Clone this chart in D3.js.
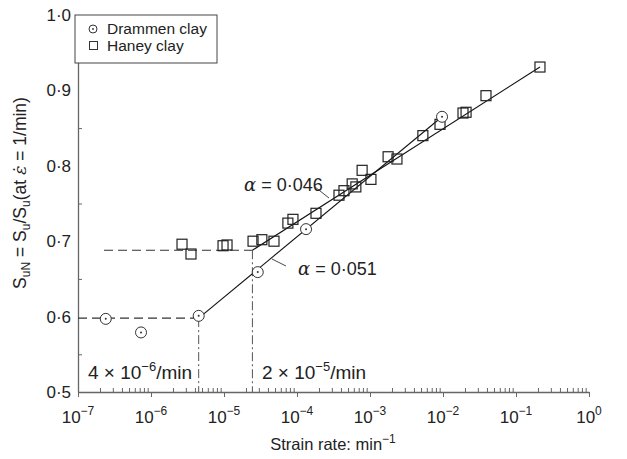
<!DOCTYPE html>
<html>
<head>
<meta charset="utf-8">
<script src="https://cdn.jsdelivr.net/npm/d3@7"></script>
<style>
  body { margin: 0; background: #fff; }
  svg { font-family: "Liberation Sans", Arial, sans-serif; }
</style>
</head>
<body>
<div id="chart"></div>
<script>
// Drammen clay (circles)
var drammenRate = [2.4e-7, 7.3e-7, 4.5e-6, 2.9e-5, 1.33e-4, 9.7e-3]
var drammenSu   = [0.597, 0.579, 0.601, 0.659, 0.716, 0.865]

// Haney clay (squares)
var haneyRate = [2.66e-6, 3.53e-6, 9.7e-6, 1.1e-5, 2.5e-5, 3.3e-5, 4.84e-5, 7.5e-5, 8.8e-5,
                 1.82e-4, 3.76e-4, 4.4e-4, 5.7e-4, 6.4e-4, 7.8e-4, 1.03e-3, 1.77e-3, 2.34e-3,
                 5.3e-3, 9.1e-3, 0.0188, 0.0207, 0.0388, 0.213]
var haneySu   = [0.696, 0.683, 0.694, 0.695, 0.700, 0.702, 0.700, 0.724, 0.729,
                 0.737, 0.761, 0.767, 0.776, 0.772, 0.794, 0.782, 0.812, 0.809,
                 0.840, 0.855, 0.870, 0.871, 0.893, 0.931]

// fitted lines (rate, Su) and plateau levels
var drammenFit = [[4.5e-6, 0.598], [9.7e-3, 0.865]]
var drammenPlateau = [[1e-7, 0.598], [4.5e-6, 0.598]]
var haneyFit = [[2.45e-5, 0.688], [0.213, 0.931]]
var haneyPlateau = [[2.27e-7, 0.688], [2.45e-5, 0.688]]

var xTickExp = [-7, -6, -5, -4, -3, -2, -1, 0]
var yTicks = [0.5, 0.6, 0.7, 0.8, 0.9, 1.0]
var yMinorTicks = [0.55, 0.65, 0.75, 0.85, 0.95]

var margin = {top: 15, right: 38, bottom: 67, left: 78},
    width = 627 - margin.left - margin.right,
    height = 459 - margin.top - margin.bottom;

var svg = d3.select('#chart')
  .append('svg')
    .attr('width', 627)
    .attr('height', 459)
  .append('g')
    .attr('transform', 'translate(' + margin.left + ',' + margin.top + ')');

var x = d3.scaleLog().domain([1e-7, 1]).range([0, width]);
var y = d3.scaleLinear().domain([0.5, 1.0]).range([height, 0]);

var axisColor = '#666';

// x minor ticks (inward)
var minorX = [];
for (var e = -7; e < 0; e++) {
  for (var m = 2; m <= 9; m++) minorX.push(m * Math.pow(10, e));
}
var gxMinor = svg.append('g')
  .attr('transform', 'translate(0,' + height + ')')
  .call(d3.axisBottom(x).tickValues(minorX).tickSize(-4).tickFormat(''));
gxMinor.select('.domain').remove();
gxMinor.selectAll('line').attr('stroke', axisColor);

// x major ticks (outward) with 10^n labels
var gx = svg.append('g')
  .attr('transform', 'translate(0,' + height + ')')
  .call(d3.axisBottom(x).tickValues(xTickExp.map(function(d) { return Math.pow(10, d) }))
    .tickSize(5).tickSizeOuter(0).tickFormat(''));
gx.select('.domain').attr('stroke', axisColor).attr('stroke-width', 1.3);
gx.selectAll('line').attr('stroke', axisColor);

xTickExp.forEach(function(ex) {
  var t = svg.append('text')
    .attr('x', x(Math.pow(10, ex)))
    .attr('y', height + 31)
    .attr('text-anchor', 'middle')
    .attr('font-size', '17px')
    .attr('fill', '#222');
  t.append('tspan').text('10');
  t.append('tspan').attr('dy', -8).attr('font-size', '12px').text(ex === 0 ? '0' : '\u2212' + (-ex));
});

// y axis
var gy = svg.append('g')
  .call(d3.axisLeft(y).tickValues(yTicks).tickSize(0).tickPadding(7)
    .tickFormat(function(d) { return d.toFixed(1).replace('.', '\u00b7') }));
gy.select('.domain').attr('stroke', axisColor).attr('stroke-width', 1.3);
gy.selectAll('text').attr('font-size', '17px').attr('fill', '#222');

var gyMinor = svg.append('g')
  .call(d3.axisLeft(y).tickValues(yMinorTicks).tickSize(-4).tickFormat(''));
gyMinor.select('.domain').remove();
gyMinor.selectAll('line').attr('stroke', axisColor);

// plateau dashed lines
var line = d3.line()
  .x(function(d) { return x(d[0]) })
  .y(function(d) { return y(d[1]) });

[drammenPlateau, haneyPlateau].forEach(function(p) {
  svg.append('path')
    .datum(p)
    .attr('fill', 'none')
    .attr('stroke', '#333')
    .attr('stroke-width', 1.1)
    .attr('stroke-dasharray', '9,5')
    .attr('d', line);
});

// vertical dash-dot markers
[drammenPlateau[1], haneyPlateau[1]].forEach(function(p) {
  svg.append('line')
    .attr('x1', x(p[0])).attr('x2', x(p[0]))
    .attr('y1', y(p[1])).attr('y2', y(0.5))
    .attr('stroke', '#555')
    .attr('stroke-width', 1)
    .attr('stroke-dasharray', '9,3,2,3');
});

// fitted lines
[drammenFit, haneyFit].forEach(function(p) {
  svg.append('path')
    .datum(p)
    .attr('fill', 'none')
    .attr('stroke', '#111')
    .attr('stroke-width', 1.1)
    .attr('d', line);
});

// Haney squares
svg.selectAll('rect.haney')
  .data(haneyRate)
  .enter().append('rect')
    .attr('class', 'haney')
    .attr('x', function(d) { return x(d) - 5 })
    .attr('y', function(d, i) { return y(haneySu[i]) - 5 })
    .attr('width', 10)
    .attr('height', 10)
    .attr('fill', 'none')
    .attr('stroke', '#222')
    .attr('stroke-width', 1.2);

// Drammen circles with centre dot
var circ = svg.selectAll('g.drammen')
  .data(drammenRate)
  .enter().append('g')
    .attr('class', 'drammen')
    .attr('transform', function(d, i) { return 'translate(' + x(d) + ',' + y(drammenSu[i]) + ')' });
circ.append('circle').attr('r', 5.5).attr('fill', '#fff').attr('stroke', '#333').attr('stroke-width', 1);
circ.append('circle').attr('r', 1).attr('fill', '#333');

// annotations
function rateLabel(xp, yp, mant, ex) {
  var t = svg.append('text')
    .attr('x', xp).attr('y', yp)
    .attr('font-size', '19px')
    .attr('fill', '#222');
  t.append('tspan').text(mant + ' \u00d7 10');
  t.append('tspan').attr('dy', -8).attr('font-size', '13px').text('\u2212' + ex);
  t.append('tspan').attr('dy', 8).text('/min');
}
rateLabel(10, 364, '4', 6);
rateLabel(184, 364, '2', 5);

function alphaLabel(xp, yp, val) {
  var t = svg.append('text')
    .attr('x', xp).attr('y', yp)
    .attr('font-size', '18px')
    .attr('fill', '#222');
  t.append('tspan').attr('font-family', '"DejaVu Serif", serif').attr('font-style', 'italic').text('\u03b1');
  t.append('tspan').text(' = ' + val);
}
alphaLabel(166, 176, '0\u00b7046');
alphaLabel(220, 260, '0\u00b7051');

// leader lines for alpha labels
svg.append('line').attr('x1', 237).attr('y1', 172).attr('x2', 251).attr('y2', 183)
  .attr('stroke', '#333').attr('stroke-width', 0.9);
svg.append('line').attr('x1', 194).attr('y1', 244).attr('x2', 208).attr('y2', 251)
  .attr('stroke', '#333').attr('stroke-width', 0.9);

// legend
var legend = svg.append('g');
legend.append('rect')
  .attr('x', -3).attr('y', 0)
  .attr('width', 142).attr('height', 48)
  .attr('fill', '#fff')
  .attr('stroke', '#444')
  .attr('stroke-width', 1);
var lc = legend.append('g').attr('transform', 'translate(15,14)');
lc.append('circle').attr('r', 4).attr('fill', 'none').attr('stroke', '#333');
lc.append('circle').attr('r', 0.9).attr('fill', '#333');
legend.append('rect').attr('x', 11.5).attr('y', 26.5).attr('width', 8).attr('height', 8)
  .attr('fill', 'none').attr('stroke', '#333');
legend.append('text').attr('x', 29).attr('y', 19).attr('font-size', '15.5px').attr('fill', '#222').text('Drammen clay');
legend.append('text').attr('x', 29).attr('y', 36).attr('font-size', '15.5px').attr('fill', '#222').text('Haney clay');

// x axis title
var xt = svg.append('text')
  .attr('x', 255)
  .attr('y', height + 58)
  .attr('text-anchor', 'middle')
  .attr('font-size', '16.5px')
  .attr('fill', '#222');
xt.append('tspan').text('Strain rate: min');
xt.append('tspan').attr('dy', -7).attr('font-size', '12px').text('\u22121');

// y axis title
var yt = svg.append('text')
  .attr('transform', 'translate(' + (-52) + ',' + 178 + ') rotate(-90)')
  .attr('text-anchor', 'middle')
  .attr('font-size', '17.5px')
  .attr('fill', '#222');
yt.append('tspan').text('S');
yt.append('tspan').attr('dy', 4).attr('font-size', '12px').text('uN');
yt.append('tspan').attr('dy', -4).text(' = S');
yt.append('tspan').attr('dy', 4).attr('font-size', '12px').text('u');
yt.append('tspan').attr('dy', -4).text('/S');
yt.append('tspan').attr('dy', 4).attr('font-size', '12px').text('u');
yt.append('tspan').attr('dy', -4).text('(at ');
yt.append('tspan').attr('font-family', '"DejaVu Serif", serif').attr('font-style', 'italic').text('\u03b5\u0307');
yt.append('tspan').text(' = 1/min)');
</script>
</body>
</html>
